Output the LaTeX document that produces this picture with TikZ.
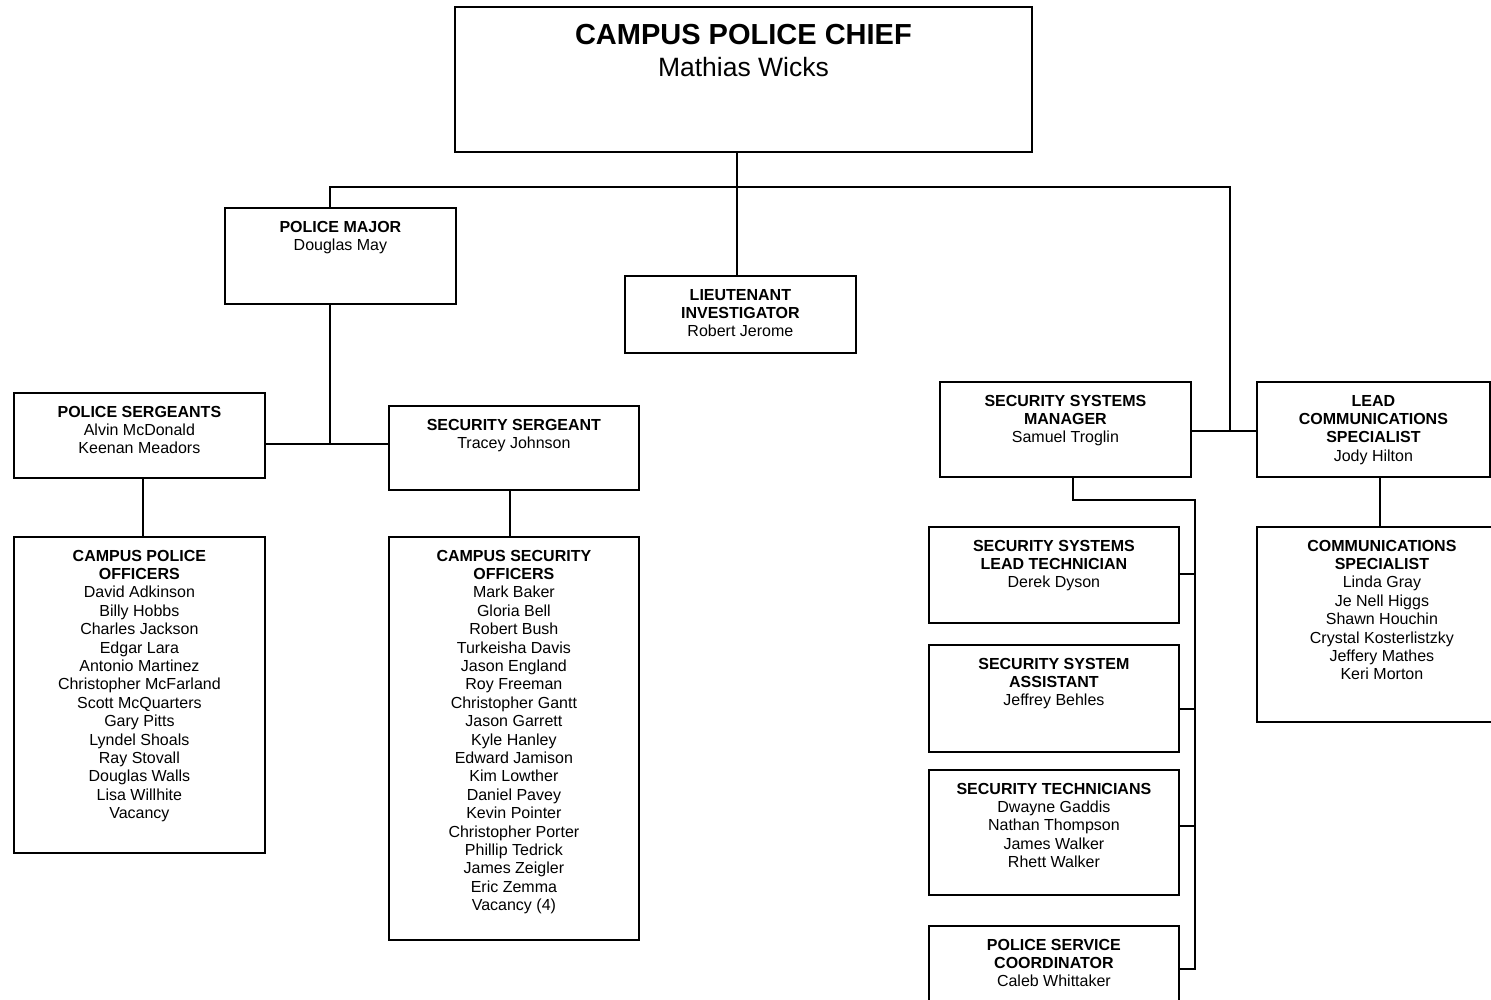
\documentclass[tikz,border=0pt]{standalone}
\usepackage{fontspec}
\setmainfont{Liberation Sans}
\begin{document}
\begin{tikzpicture}[x=1pt,y=-1pt,
  box/.style={draw, line width=1.8pt, inner sep=0pt, anchor=north west},
  txt/.style={anchor=north, inner sep=0pt, align=center, font=\fontsize{16}{18.4}\selectfont},
  conn/.style={line width=1.8pt}]
\clip (0,0) rectangle (1491,999);
% boxes
\node[box, minimum width=577pt, minimum height=145pt] (chief) at (454,6) {};
\node[box, minimum width=231pt, minimum height=96pt] (major) at (224,207) {};
\node[box, minimum width=231pt, minimum height=77pt] (lt) at (624,275) {};
\node[box, minimum width=251pt, minimum height=85pt] (ps) at (13,392) {};
\node[box, minimum width=250pt, minimum height=84pt] (ss) at (388,405) {};
\node[box, minimum width=251pt, minimum height=316pt] (cpo) at (13,536) {};
\node[box, minimum width=250pt, minimum height=403pt] (cso) at (388,536) {};
\node[box, minimum width=251pt, minimum height=95pt] (ssm) at (939,381) {};
\node[box, minimum width=233pt, minimum height=95pt] (lcs) at (1256,381) {};
\node[box, minimum width=250pt, minimum height=96pt] (sslt) at (928,526) {};
\node[box, minimum width=250pt, minimum height=107pt] (ssa) at (928,644) {};
\node[box, minimum width=250pt, minimum height=125pt] (st) at (928,769) {};
\node[box, minimum width=250pt, minimum height=95pt] (psc) at (928,925) {};
\node[box, minimum width=250pt, minimum height=195pt] (cs) at (1256,526) {};
% texts
\node[txt, font=\fontsize{29}{32}\selectfont] (chief-t) at ([yshift=-17.6pt]chief.north) {\textbf{CAMPUS POLICE CHIEF}\\{\fontsize{26.5}{32}\selectfont Mathias Wicks}};
\node[txt] (major-t) at ([yshift=-13.8pt]major.north) {\textbf{POLICE MAJOR}\\Douglas May};
\node[txt] (lt-t) at ([yshift=-13.8pt]lt.north) {\textbf{LIEUTENANT}\\\textbf{INVESTIGATOR}\\Robert Jerome};
\node[txt] (ps-t) at ([yshift=-13.8pt]ps.north) {\textbf{POLICE SERGEANTS}\\Alvin McDonald\\Keenan Meadors};
\node[txt] (ss-t) at ([yshift=-13.8pt]ss.north) {\textbf{SECURITY SERGEANT}\\Tracey Johnson};
\node[txt] (cpo-t) at ([yshift=-13.8pt]cpo.north) {\textbf{CAMPUS POLICE}\\\textbf{OFFICERS}\\David Adkinson\\Billy Hobbs\\Charles Jackson\\Edgar Lara\\Antonio Martinez\\Christopher McFarland\\Scott McQuarters\\Gary Pitts\\Lyndel Shoals\\Ray Stovall\\Douglas Walls\\Lisa Willhite\\Vacancy};
\node[txt] (cso-t) at ([yshift=-13.8pt]cso.north) {\textbf{CAMPUS SECURITY}\\\textbf{OFFICERS}\\Mark Baker\\Gloria Bell\\Robert Bush\\Turkeisha Davis\\Jason England\\Roy Freeman\\Christopher Gantt\\Jason Garrett\\Kyle Hanley\\Edward Jamison\\Kim Lowther\\Daniel Pavey\\Kevin Pointer\\Christopher Porter\\Phillip Tedrick\\James Zeigler\\Eric Zemma\\Vacancy (4)};
\node[txt] (ssm-t) at ([yshift=-13.8pt]ssm.north) {\textbf{SECURITY SYSTEMS}\\\textbf{MANAGER}\\Samuel Troglin};
\node[txt] (lcs-t) at ([yshift=-13.8pt]lcs.north) {\textbf{LEAD}\\\textbf{COMMUNICATIONS}\\\textbf{SPECIALIST}\\Jody Hilton};
\node[txt] (sslt-t) at ([yshift=-13.8pt]sslt.north) {\textbf{SECURITY SYSTEMS}\\\textbf{LEAD TECHNICIAN}\\Derek Dyson};
\node[txt] (ssa-t) at ([yshift=-13.8pt]ssa.north) {\textbf{SECURITY SYSTEM}\\\textbf{ASSISTANT}\\Jeffrey Behles};
\node[txt] (st-t) at ([yshift=-13.8pt]st.north) {\textbf{SECURITY TECHNICIANS}\\Dwayne Gaddis\\Nathan Thompson\\James Walker\\Rhett Walker};
\node[txt] (psc-t) at ([yshift=-13.8pt]psc.north) {\textbf{POLICE SERVICE}\\\textbf{COORDINATOR}\\Caleb Whittaker};
\node[txt] (cs-t) at ([yshift=-13.8pt]cs.north) {\textbf{COMMUNICATIONS}\\\textbf{SPECIALIST}\\Linda Gray\\Je Nell Higgs\\Shawn Houchin\\Crystal Kosterlistzky\\Jeffery Mathes\\Keri Morton};
% connector points
\coordinate (bL) at (330,187);
\coordinate (bC) at (737,187);
\coordinate (bR) at (1230,187);
\coordinate (jR) at (1230,431);
\coordinate (jM) at (330,444);
\coordinate (xP) at (143,0);
\coordinate (xS) at (510,0);
\coordinate (xL) at (1380,0);
\coordinate (xM) at (1073,500);
\coordinate (xV) at (1195,500);
\coordinate (t1) at (1195,574);
\coordinate (t2) at (1195,709);
\coordinate (t3) at (1195,826);
\coordinate (t4) at (1195,969);
% connectors
\draw[conn] (chief.south -| bC) -- (bC);
\draw[conn] (bL |- major.north) -- (bL) -- (bR) -- (jR);
\draw[conn] (bC) -- (bC |- lt.north);
\draw[conn] (ssm.east |- jR) -- (lcs.west |- jR);
\draw[conn] (major.south -| jM) -- (jM);
\draw[conn] (ps.east |- jM) -- (ss.west |- jM);
\draw[conn] (ps.south -| xP) -- (cpo.north -| xP);
\draw[conn] (ss.south -| xS) -- (cso.north -| xS);
\draw[conn] (lcs.south -| xL) -- (cs.north -| xL);
\draw[conn] (ssm.south -| xM) -- (xM) -- (xV) -- (t4) -- (psc.east |- t4);
\draw[conn] (sslt.east |- t1) -- (t1);
\draw[conn] (ssa.east |- t2) -- (t2);
\draw[conn] (st.east |- t3) -- (t3);
\end{tikzpicture}
\end{document}
